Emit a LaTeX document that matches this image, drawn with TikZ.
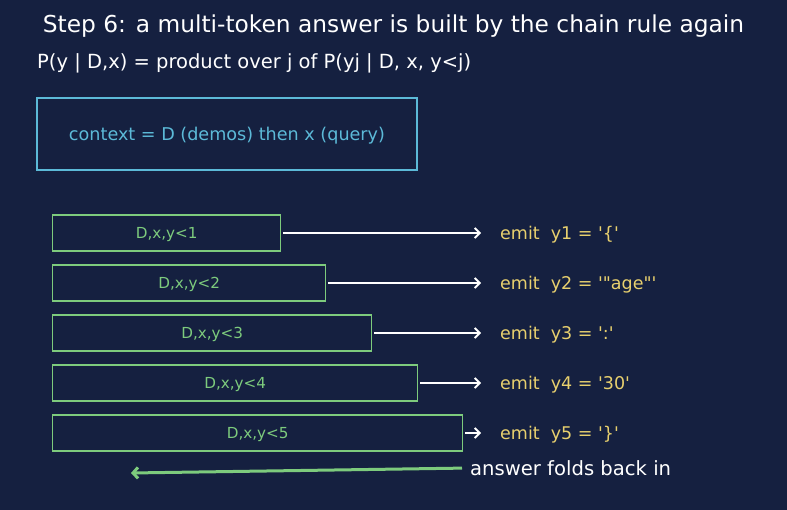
\documentclass[tikz,border=0pt]{standalone}
\usepackage{fontspec}
\setmainfont{DejaVu Sans}[Ligatures=TeXOff]
\usetikzlibrary{arrows.meta,positioning}
\definecolor{Night}{HTML}{152040}
\definecolor{Sky}{HTML}{5CBAD8}
\definecolor{Leaf}{HTML}{7DCB7D}
\definecolor{Sand}{HTML}{E8D06E}
\tikzset{
  >={Straight Barb[length=5pt,width=10pt]},
  ctx/.style={draw=Sky,line width=1.4pt,fill=Night,text=Sky,font=\fontsize{17.6}{20}\selectfont},
  prefbox/.style={draw=Leaf,line width=1.4pt,fill=Night,text=Leaf,anchor=west,minimum height=36pt,inner sep=0pt,text depth=0pt,font=\fontsize{15.2}{18}\selectfont},
  emit/.style={anchor=west,inner sep=0pt,text depth=0pt,text=Sand,font=\fontsize{17.5}{20}\selectfont},
  tok/.style={->,line width=1.8pt,draw=white,shorten <=2pt,shorten >=19pt},
  fold/.style={->,line width=3pt,draw=Leaf,shorten <=8pt,>={Straight Barb[length=5pt,width=11pt]}}
}

\begin{document}
\begin{tikzpicture}[x=1pt,y=-1pt]
    \fill[Night] (0,0) rectangle (787,510);
    \useasboundingbox (0,0) rectangle (787,510);
    \node[text=white,font=\fontsize{23.3}{26}\selectfont] (title) at (393.5,26) {Step 6: a multi-token answer is built by the chain rule again};
    \node[text=white,anchor=west,inner sep=0pt,text depth=0pt,font=\fontsize{19.5}{22}\selectfont] (rule) at (37,61) {P(y | D,x) = product over j of P(yj | D, x, y<j)};
    \node[ctx,minimum width=380pt,minimum height=72pt,text depth=0pt] (context) at (227,134) {context = D (demos) then x (query)};
    % one prefix box per emitted token
    \node[prefbox,minimum width=228pt] (c1) at (52,233) {D,x,y<1}; \node[emit] (e1) at (500,233) {emit\ \ y1 = '\{'};
    \node[prefbox,minimum width=273pt] (c2) at (52,283) {D,x,y<2}; \node[emit] (e2) at (500,283) {emit\ \ y2 = '"age"'};
    \node[prefbox,minimum width=319pt] (c3) at (52,333) {D,x,y<3}; \node[emit] (e3) at (500,333) {emit\ \ y3 = ':'};
    \node[prefbox,minimum width=365pt] (c4) at (52,383) {D,x,y<4}; \node[emit] (e4) at (500,383) {emit\ \ y4 = '30'};
    \node[prefbox,minimum width=410pt] (c5) at (52,433) {D,x,y<5}; \node[emit] (e5) at (500,433) {emit\ \ y5 = '\}'};
    \draw[tok] (c1.east)--(e1.west); \draw[tok] (c2.east)--(e2.west);
    \draw[tok] (c3.east)--(e3.west); \draw[tok] (c4.east)--(e4.west);
    \draw[tok] (c5.east)--(e5.west);
    \node[anchor=west,inner sep=0pt,text depth=0pt,text=white,font=\fontsize{19.6}{22}\selectfont] (back) at (470,468) {answer folds back in};
    \coordinate (home) at (131,473);
    \draw[fold] (back.west)--(home);
  \end{tikzpicture}
\end{document}
